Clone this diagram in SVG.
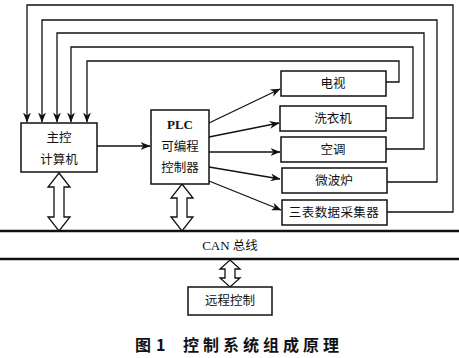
<svg xmlns="http://www.w3.org/2000/svg" width="459" height="358" viewBox="0 0 459 358">
<defs>
<style>
.box{fill:#fff;stroke:#111;stroke-width:1.5}
.ln{fill:none;stroke:#111;stroke-width:1.3}
.bus{fill:none;stroke:#111;stroke-width:2.5}
.dbl{fill:#fff;stroke:#111;stroke-width:1.3}
.t{font-family:"Noto Sans CJK SC","Noto Sans",sans-serif;font-size:12.5px;fill:#111;text-anchor:middle}
.s{font-family:"Liberation Serif","Noto Sans CJK SC",serif;font-size:13px;fill:#111;text-anchor:middle}
.cap{font-family:"Noto Sans CJK SC",sans-serif;font-size:16px;font-weight:bold;fill:#111}
</style>
<marker id="ah" viewBox="0 0 10 8" refX="9.5" refY="4" markerWidth="10" markerHeight="8" markerUnits="userSpaceOnUse" orient="auto">
<path d="M0,0 L10,4 L0,8 L3,4 z" fill="#111"/>
</marker>
</defs>
<rect width="459" height="358" fill="#fff"/>
<g id="connectors">
<!-- feedback lines -->
<path class="ln" d="M387,212 H453 V5 H27 V122" marker-end="url(#ah)"/>
<path class="ln" d="M387,182 H437 V20 H42 V122" marker-end="url(#ah)"/>
<path class="ln" d="M386,149 H424 V33 H57 V122" marker-end="url(#ah)"/>
<path class="ln" d="M386,118 H413 V47 H71 V122" marker-end="url(#ah)"/>
<path class="ln" d="M386,82 H399 V61 H87 V122" marker-end="url(#ah)"/>
<!-- main to PLC -->
<path class="ln" d="M97,146 H150" marker-end="url(#ah)"/>
<!-- PLC to devices -->
<path class="ln" d="M209,123 L280,89" marker-end="url(#ah)"/>
<path class="ln" d="M209,137 L279,123" marker-end="url(#ah)"/>
<path class="ln" d="M209,152 L280,152" marker-end="url(#ah)"/>
<path class="ln" d="M209,167 L280,179" marker-end="url(#ah)"/>
<path class="ln" d="M209,181 L281,210" marker-end="url(#ah)"/>
<!-- CAN bus -->
<path class="bus" d="M0,231 H459"/>
<path class="bus" d="M0,259 H459"/>
<!-- double arrows -->
<polygon class="dbl" points="59,173 70,187 64,187 64,217 70,217 59,231 48,217 54,217 54,187 48,187"/>
<polygon class="dbl" points="182,184 193,198 187,198 187,217 193,217 182,231 171,217 177,217 177,198 171,198"/>
<polygon class="dbl" points="230,260 240,269 235,269 235,278 240,278 230,287 220,278 225,278 225,269 220,269"/>
</g>
<g id="main">
<rect class="box" x="21" y="123" width="76" height="49"/>
<text class="t" x="59" y="142">主控</text>
<text class="t" x="59" y="164">计算机</text>
</g>
<g id="plc">
<rect class="box" x="151" y="110" width="58" height="74"/>
<text class="s" x="180" y="129" font-weight="bold">PLC</text>
<text class="t" x="180" y="151">可编程</text>
<text class="t" x="180" y="172">控制器</text>
</g>
<g id="tv">
<rect class="box" x="281" y="71" width="105" height="25"/>
<text class="t" x="333" y="88">电视</text>
</g>
<g id="washer">
<rect class="box" x="280" y="106" width="106" height="25"/>
<text class="t" x="333" y="123">洗衣机</text>
</g>
<g id="ac">
<rect class="box" x="281" y="137" width="105" height="25"/>
<text class="t" x="333" y="154">空调</text>
</g>
<g id="microwave">
<rect class="box" x="282" y="168" width="105" height="25"/>
<text class="t" x="334" y="185">微波炉</text>
</g>
<g id="meter">
<rect class="box" x="282" y="200" width="105" height="25"/>
<text class="t" x="334" y="217" letter-spacing="0.4">三表数据采集器</text>
</g>
<g id="canlabel">
<text class="s" x="230" y="250">CAN <tspan font-family="Noto Sans CJK SC,sans-serif" font-size="12.5">总线</tspan></text>
</g>
<g id="remote">
<rect class="box" x="188" y="287" width="84" height="28"/>
<text class="t" x="230" y="305">远程控制</text>
</g>
<g id="caption">
<text class="cap" x="135" y="351">图</text>
<text class="cap" x="156" y="351" font-family="Liberation Serif,serif">1</text>
<text class="cap" x="183" y="351" letter-spacing="4">控制系统组成原理</text>
</g>
</svg>
